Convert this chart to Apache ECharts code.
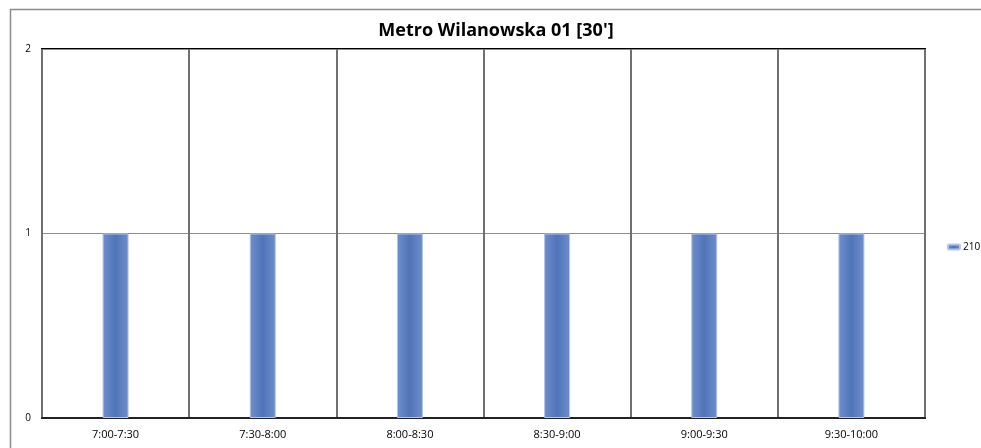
<!DOCTYPE html>
<html>
<head>
<meta charset="utf-8">
<script src="https://cdn.jsdelivr.net/npm/echarts@6/dist/echarts.min.js"></script>
<style>
  html, body { margin: 0; padding: 0; background: #fff; }
  #main { width: 981px; height: 448px; }
</style>
</head>
<body>
<div id="main"></div>
<script>
// dane
var categories = ['7:00-7:30', '7:30-8:00', '8:00-8:30', '8:30-9:00', '9:00-9:30', '9:30-10:00'];
var seriesName = '210';
var values = [1, 1, 1, 1, 1, 1];
var yTicks = [0, 1, 2];

var chart = echarts.init(document.getElementById('main'));

var option = {
    backgroundColor: '#fff',
    animation: false,
    // ramka całego wykresu
    graphic: [{
        type: 'rect',
        left: 8, top: 7,
        shape: { width: 1000, height: 460 },
        style: { fill: 'none', stroke: '#8c8c8c', lineWidth: 1.5 },
        silent: true
    }],
    title: {
        text: "Metro Wilanowska 01 [30']",
        left: 491,
        textAlign: 'center',
        top: 17,
        textStyle: {
            fontFamily: 'Open Sans',
            fontSize: 18,
            fontWeight: 'bold',
            color: '#000'
        }
    },
    legend: {
        data: [seriesName],
        orient: 'vertical',
        left: 942,
        top: 237,
        itemWidth: 12,
        itemHeight: 5,
        itemGap: 4,
        textStyle: { fontFamily: 'Open Sans', fontSize: 10, color: '#000', padding: [0, 0, 0, -2] }
    },
    grid: {
        left: 42,
        right: 56,
        top: 49,
        bottom: 30,
        show: true,
        borderColor: '#000',
        borderWidth: 2,
        containLabel: false
    },
    xAxis: {
        type: 'category',
        data: categories,
        boundaryGap: true,
        axisLine: { show: true, lineStyle: { color: '#222', width: 2 } },
        axisTick: { show: false },
        axisLabel: { fontFamily: 'Open Sans', fontSize: 11, color: '#000', margin: 11 },
        splitLine: { show: true, lineStyle: { color: '#707070', width: 2 } }
    },
    yAxis: {
        type: 'value',
        min: yTicks[0],
        max: yTicks[yTicks.length - 1],
        interval: 1,
        axisLine: { show: false },
        axisTick: { show: false },
        axisLabel: { fontFamily: 'Open Sans', fontSize: 10, color: '#000', margin: 11 },
        splitLine: { show: true, lineStyle: { color: '#8c8c8c', width: 1 } }
    },
    series: [{
        name: seriesName,
        type: 'bar',
        data: values,
        barWidth: 26,
        itemStyle: {
            color: new echarts.graphic.LinearGradient(0, 0, 1, 0, [
                { offset: 0, color: '#6f8fcc' },
                { offset: 0.5, color: '#4f74b8' },
                { offset: 1, color: '#6f8fcc' }
            ]),
            borderColor: '#b4c4e4',
            borderWidth: 1
        }
    }]
};

chart.setOption(option);
</script>
</body>
</html>
